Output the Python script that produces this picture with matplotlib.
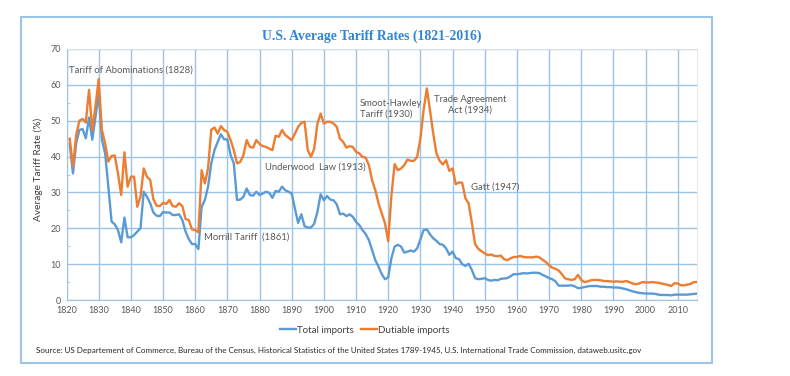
import matplotlib
matplotlib.use("Agg")
import matplotlib.pyplot as plt
from matplotlib.patches import Rectangle
import numpy as np

# annual average tariff rates 1821-2016 (%)
years = np.arange(1821, 2017)

total_imports = [
    43.5, 35.3, 43.7, 47.4, 47.7, 45.1, 50.9, 44.7, 51.0, 57.7,   # 1821-1830
    44.7, 40.9, 31.6, 21.9, 21.1, 19.5, 16.1, 23.0, 17.5, 17.5,   # 1831-1840
    18.1, 19.1, 20.0, 30.2, 28.8, 27.0, 24.4, 23.5, 23.4, 24.5,   # 1841-1850
    24.4, 24.4, 23.7, 23.7, 23.9, 22.3, 19.1, 17.0, 15.6, 15.6,   # 1851-1860
    14.2, 26.0, 27.9, 31.6, 38.1, 41.8, 44.1, 46.2, 44.8, 44.8,   # 1861-1870
    40.4, 38.1, 27.9, 28.0, 28.8, 31.1, 29.3, 29.1, 30.2, 29.3,   # 1871-1880
    29.7, 30.2, 29.9, 28.5, 30.4, 30.2, 31.6, 30.6, 30.2, 29.7,   # 1881-1890
    25.5, 21.5, 23.9, 20.6, 20.2, 20.2, 21.3, 24.6, 29.5, 27.8,   # 1891-1900
    29.0, 28.0, 27.8, 26.7, 23.9, 24.1, 23.4, 23.9, 23.2, 21.8,   # 1901-1910
    20.9, 19.5, 18.4, 16.7, 13.9, 11.1, 9.3, 7.2, 5.8, 6.3,       # 1911-1920
    11.7, 14.9, 15.4, 14.9, 13.2, 13.5, 13.8, 13.5, 14.4, 16.9,   # 1921-1930
    19.5, 19.7, 18.3, 17.2, 16.5, 15.6, 15.4, 14.4, 12.6, 13.5,   # 1931-1940
    11.7, 11.4, 10.0, 9.5, 10.1, 8.4, 6.1, 5.8, 5.9, 6.1,         # 1941-1950
    5.6, 5.4, 5.6, 5.5, 5.9, 6.0, 6.1, 6.6, 7.2, 7.2,             # 1951-1960
    7.3, 7.5, 7.4, 7.5, 7.6, 7.6, 7.5, 7.0, 6.6, 6.1,             # 1961-1970
    5.8, 5.2, 4.0, 4.0, 4.0, 4.0, 4.1, 3.8, 3.3, 3.4,             # 1971-1980
    3.6, 3.8, 3.9, 3.9, 3.9, 3.7, 3.7, 3.6, 3.6, 3.5,             # 1981-1990
    3.5, 3.4, 3.2, 3.0, 2.7, 2.4, 2.2, 2.0, 1.9, 1.8,             # 1991-2000
    1.8, 1.8, 1.7, 1.5, 1.4, 1.4, 1.4, 1.3, 1.5, 1.5,             # 2001-2010
    1.5, 1.5, 1.5, 1.6, 1.7, 1.8,                                 # 2011-2016
]

dutiable_imports = [
    45.0, 37.2, 46.0, 50.0, 50.5, 49.5, 58.6, 47.4, 54.0, 61.6,   # 1821-1830
    47.4, 43.7, 38.6, 40.2, 40.3, 35.3, 29.3, 41.2, 31.6, 34.4,   # 1831-1840
    34.4, 26.0, 28.8, 36.7, 34.4, 33.5, 28.1, 26.3, 26.2, 27.1,   # 1841-1850
    26.8, 27.9, 26.2, 26.0, 27.0, 26.2, 22.6, 22.3, 19.7, 19.5,   # 1851-1860
    18.9, 36.2, 32.5, 36.7, 47.5, 48.1, 46.4, 48.5, 47.4, 46.9,   # 1861-1870
    44.6, 41.8, 38.1, 38.5, 40.4, 44.6, 42.7, 42.5, 44.6, 43.5,   # 1871-1880
    42.9, 42.7, 42.2, 41.8, 45.8, 45.5, 47.4, 46.0, 45.3, 44.6,   # 1881-1890
    46.4, 48.3, 49.4, 49.7, 41.8, 39.9, 42.2, 49.2, 52.0, 49.2,   # 1891-1900
    49.7, 49.7, 49.2, 48.3, 45.0, 44.1, 42.5, 42.9, 42.7, 41.3,   # 1901-1910
    40.9, 39.9, 39.7, 37.6, 33.4, 30.6, 26.9, 24.1, 21.4, 16.4,   # 1911-1920
    29.2, 37.9, 36.2, 36.7, 37.6, 39.2, 38.8, 38.8, 39.9, 45.0,   # 1921-1930
    52.9, 59.0, 52.9, 46.4, 40.9, 38.8, 37.8, 39.0, 36.0, 36.7,   # 1931-1940
    32.3, 32.8, 32.7, 28.4, 26.9, 21.6, 15.6, 14.3, 13.6, 13.0,   # 1941-1950
    12.5, 12.7, 12.3, 12.2, 12.4, 11.4, 11.1, 11.6, 12.0, 12.0,   # 1951-1960
    12.3, 12.0, 11.9, 11.9, 11.9, 12.1, 11.9, 11.2, 10.6, 9.7,    # 1961-1970
    9.0, 8.7, 8.2, 7.2, 6.0, 5.8, 5.6, 5.8, 7.0, 5.6,             # 1971-1980
    5.0, 5.2, 5.5, 5.6, 5.6, 5.5, 5.3, 5.3, 5.2, 5.1,             # 1981-1990
    5.2, 5.1, 5.1, 5.3, 5.0, 4.6, 4.4, 4.6, 5.0, 4.9,             # 1991-2000
    4.9, 5.0, 4.9, 4.8, 4.6, 4.4, 4.2, 3.9, 4.7, 4.6,             # 2001-2010
    4.1, 4.1, 4.3, 4.5, 5.0, 5.0,                                 # 2011-2016
]

x_ticks = list(range(1820, 2011, 10))
y_ticks = list(range(0, 71, 10))

# events written on the chart: text, year, value
events = [
    ("Tariff of Abominations (1828)", 1820.8, 64.0),
    ("Morrill Tariff  (1861)", 1862.6, 17.6),
    ("Underwood  Law (1913)", 1881.6, 37.2),
    ("Smoot-Hawley\nTariff (1930)", 1911.1, 53.3),
    ("Trade Agreement\nAct (1934)", 1934.1, 54.4),
    ("Gatt (1947)", 1945.6, 31.6),
]

BLUE = "#5B9BD5"
ORANGE = "#ED7D31"
GRID = "#9DC3E6"
GREY = "#595959"

plt.rcParams['font.family'] = ['Lato', 'DejaVu Sans']

fig = plt.figure(figsize=(7.9, 3.76), dpi=100)
ax = fig.add_axes([0.0842, 0.2021, 0.7981, 0.6676])

ax.plot(years, total_imports, color=BLUE, lw=1.7, label="Total imports")
ax.plot(years, dutiable_imports, color=ORANGE, lw=1.7, label="Dutiable imports")

ax.set_xlim(1820, 2016)
ax.set_ylim(0, 70)
ax.set_xticks(x_ticks)
ax.set_yticks(y_ticks)
ax.set_yticks(range(5, 70, 10), minor=True)
ax.grid(True, color=GRID, lw=1.0)
ax.set_axisbelow(True)
for s in ["top", "right"]:
    ax.spines[s].set_color("#e4e4e4")
    ax.spines[s].set_linewidth(0.6)
for s in ["left", "bottom"]:
    ax.spines[s].set_color(GRID)
ax.tick_params(axis="both", which="major", length=0, labelsize=6.5,
               labelcolor=GREY, pad=4)
ax.tick_params(axis="y", which="minor", length=2, color=GRID, direction="in")
ax.set_ylabel("Average Tariff Rate (%)", fontsize=7.3, color="#404040")
ax.yaxis.set_label_coords(-0.037, 0.52)

for txt, yr, val in events:
    ax.text(yr, val, txt, fontsize=6.8, color=GREY, va="center", ha="left",
            multialignment="center" if txt.startswith("Trade") else "left",
            linespacing=1.3)

fig.text(0.471, 0.904, "U.S. Average Tariff Rates (1821-2016)", ha="center",
         va="center", fontsize=9.8, fontweight="bold", color="#2E86D6",
         family="Liberation Serif")

fig.legend(loc="center", bbox_to_anchor=(0.462, 0.122), ncol=2, frameon=False,
           fontsize=7, handlelength=1.6, handletextpad=0.1, columnspacing=0.8,
           labelcolor="#404040")

fig.text(0.045, 0.069,
         "Source: US Departement of Commerce, Bureau of the Census, Historical Statistics of the "
         "United States 1789-1945, U.S. International Trade Commission, dataweb.usitc.gov",
         fontsize=5.75, color="#262626", va="center")

fig.patches.append(Rectangle((0.027, 0.035), 0.874, 0.92, transform=fig.transFigure,
                             fill=False, edgecolor=GRID, lw=1.5))

fig.savefig("out.png", dpi=100)
